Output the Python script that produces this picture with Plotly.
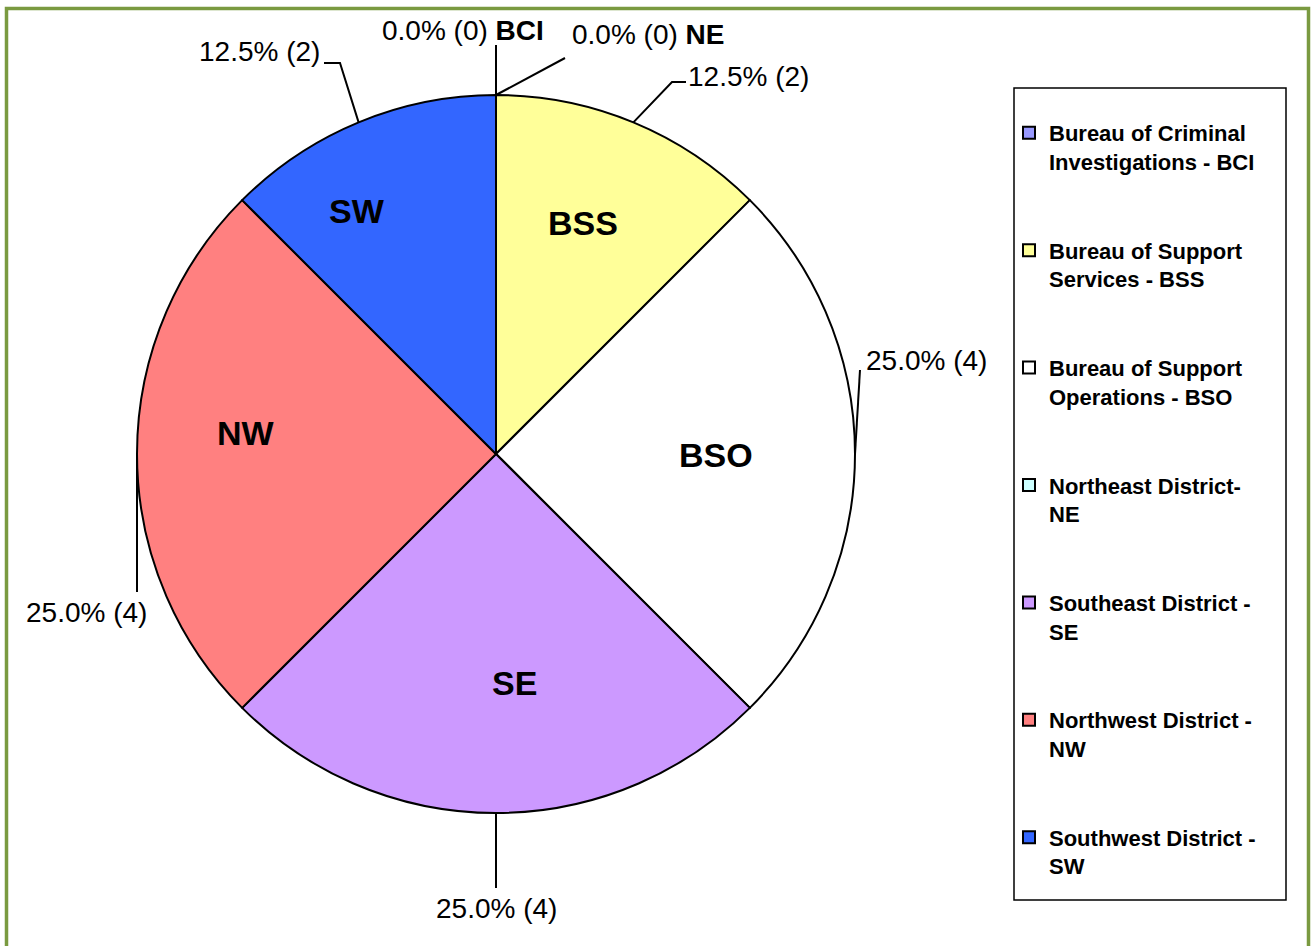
import math
import plotly.graph_objects as go

# ---------------- data ----------------
CATEGORIES = [
    "Bureau of Criminal<br>Investigations - BCI",
    "Bureau of Support<br>Services - BSS",
    "Bureau of Support<br>Operations - BSO",
    "Northeast District-<br>NE",
    "Southeast District -<br>SE",
    "Northwest District -<br>NW",
    "Southwest District -<br>SW",
]
ABBR = ["BCI", "BSS", "BSO", "NE", "SE", "NW", "SW"]
VALUES = [0, 2, 4, 0, 4, 4, 2]
COLORS = ["#9999FF", "#FFFF99", "#FFFFFF", "#CCFFFF", "#CC99FF", "#FF8080", "#3366FF"]

# ---------------- layout config (pixels) ----------------
W, H = 1316, 946
CX, CY, R = 496, 454, 359
FONT = "Liberation Sans, Arial, sans-serif"


def X(px):
    return px / W


def Y(py):
    return 1 - py / H


total = sum(VALUES)
starts, mids = [], []
acc = 0
for v in VALUES:
    a0 = acc / total * 360
    acc += v
    a1 = acc / total * 360
    starts.append(a0)
    mids.append((a0 + a1) / 2)


def polar(angle_deg, r):
    a = math.radians(angle_deg)
    return CX + r * math.sin(a), CY - r * math.cos(a)


# outside label placement: anchor-angle override, leader elbow points, text anchor
OUT = {
    "BCI": dict(angle=0, pts=[(496, 45)], tx=546, ty=30, xa="right", name=True),
    "NE": dict(angle=0, pts=[(565, 58)], tx=570, ty=35, xa="left", name=True),
    "BSS": dict(angle=None, pts=[(672, 82), (686, 82)], tx=686, ty=76, xa="left", name=False),
    "BSO": dict(angle=None, pts=[(860, 370)], tx=864, ty=360, xa="left", name=False),
    "SE": dict(angle=None, pts=[(496, 888)], tx=496, ty=908, xa="center", name=False),
    "NW": dict(angle=None, pts=[(137, 592)], tx=86, ty=612, xa="center", name=False),
    "SW": dict(angle=None, pts=[(340, 63), (324, 63)], tx=322, ty=52, xa="right", name=False),
}
# inside label placement: (angle, radius fraction)
INSIDE = {
    "BSS": (20.6, 0.688),
    "BSO": (90.3, 0.613),
    "SE": (175.5, 0.64),
    "NW": (274.8, 0.70),
    "SW": (330.3, 0.78),
}

fig = go.Figure()
fig.add_trace(go.Pie(
    labels=[c + "<br> <br> " for c in CATEGORIES],
    values=VALUES,
    marker=dict(colors=COLORS, line=dict(color="black", width=2)),
    sort=False,
    direction="clockwise",
    rotation=0,
    textinfo="none",
    hoverinfo="label+value+percent",
    domain=dict(x=[X(CX - R), X(CX + R)], y=[Y(CY + R), Y(CY - R)]),
))

annotations = []
shapes = []

for i, ab in enumerate(ABBR):
    v = VALUES[i]
    cfg = OUT[ab]
    ang = cfg["angle"] if cfg["angle"] is not None else mids[i]
    sx, sy = polar(ang, R)
    pts = [(sx, sy)] + cfg["pts"]
    path = "M " + " L ".join(f"{X(px):.6f},{Y(py):.6f}" for px, py in pts)
    shapes.append(dict(type="path", xref="paper", yref="paper", path=path,
                       line=dict(color="black", width=2)))
    txt = f"{v / total * 100:.1f}% ({v})"
    if cfg["name"]:
        txt += f" <b>{ab}</b>"
    annotations.append(dict(x=X(cfg["tx"]), y=Y(cfg["ty"]), xref="paper", yref="paper",
                            text=txt, showarrow=False, xanchor=cfg["xa"], yanchor="middle",
                            font=dict(size=28, family=FONT, color="black")))
    if ab in INSIDE and v > 0:
        a, f = INSIDE[ab]
        ix, iy = polar(a, f * R)
        annotations.append(dict(x=X(ix), y=Y(iy), xref="paper", yref="paper",
                                text=f"<b>{ab}</b>", showarrow=False,
                                xanchor="center", yanchor="middle",
                                font=dict(size=34, family=FONT, color="black")))

# legend box
shapes.append(dict(type="rect", xref="paper", yref="paper",
                   x0=X(1014), x1=X(1286), y0=Y(900), y1=Y(88),
                   line=dict(color="black", width=1.5), fillcolor="rgba(0,0,0,0)"))
# outer green frame
shapes.append(dict(type="rect", xref="paper", yref="paper",
                   x0=X(6.5), x1=X(1308.5), y0=Y(980), y1=Y(8.5),
                   line=dict(color="#7A9A40", width=3.5), fillcolor="rgba(0,0,0,0)"))

fig.update_layout(
    width=W, height=H,
    margin=dict(l=0, r=0, t=0, b=0),
    paper_bgcolor="white", plot_bgcolor="white",
    showlegend=True,
    legend=dict(x=X(1009), y=Y(112), xanchor="left", yanchor="top",
                font=dict(size=22, family=FONT, color="black", weight="bold"),
                bgcolor="rgba(0,0,0,0)", borderwidth=0, itemwidth=30,
                valign="top", traceorder="normal"),
    annotations=annotations,
    shapes=shapes,
)

fig.write_html("out.html", config={"displayModeBar": False},
               post_script="document.body.style.margin='0';")
